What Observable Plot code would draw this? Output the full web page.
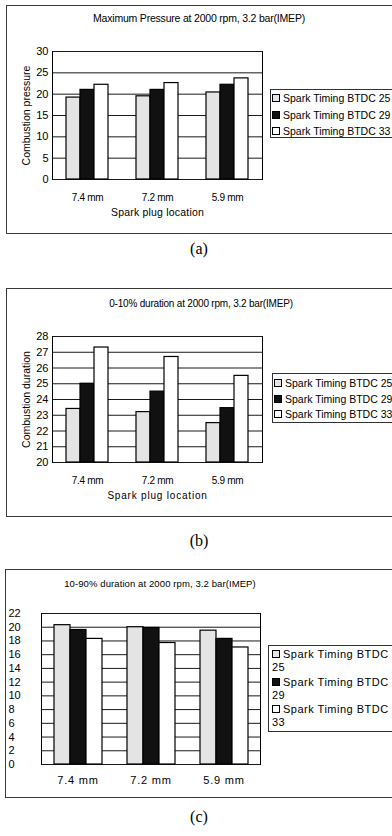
<!DOCTYPE html>
<html><head><meta charset="utf-8">
<script src="https://cdn.jsdelivr.net/npm/d3@7"></script>
<script src="https://cdn.jsdelivr.net/npm/@observablehq/plot@0.6"></script>
<style>
body{margin:0;background:#fff;}
#page{position:relative;width:392px;height:836px;overflow:hidden;font-family:"Liberation Sans",Arial,sans-serif;color:#000;background:#fff;}
.box{position:absolute;border:1px solid #3a3a3a;box-sizing:border-box;}
.title{position:absolute;white-space:nowrap;transform:translate(-50%,-50%);}
.cap{position:absolute;font-family:"Liberation Serif","DejaVu Serif",serif;font-size:16px;transform:translate(-50%,-50%);}
.legend{position:absolute;border:1px solid #333;background:#fff;box-sizing:border-box;}
.legend .item{white-space:nowrap;}
.legend .sw{display:inline-block;width:6px;height:6px;border:1px solid #000;margin-right:3px;vertical-align:0px;}
.plot{position:absolute;left:0;}
.plot svg{overflow:visible;}
</style></head><body><div id="page"></div><script>
// ---- shared categories ----
const locations = ["7.4 mm", "7.2 mm", "5.9 mm"];
const timings = ["Spark Timing BTDC 25", "Spark Timing BTDC 29", "Spark Timing BTDC 33"];
const timingFills = ["#e4e4e4", "#111111", "#ffffff"];
const xAxisLabel = "Spark plug location";

// ---- (a) Maximum pressure ----
const titleA = "Maximum Pressure at 2000 rpm, 3.2 bar(IMEP)";
const yLabelA = "Combustion pressure";
const pressureBTDC25 = [19.2, 19.5, 20.4];
const pressureBTDC29 = [21.0, 21.0, 22.2];
const pressureBTDC33 = [22.2, 22.6, 23.7];
const pressureTicks = [0, 5, 10, 15, 20, 25, 30];

// ---- (b) 0-10% duration ----
const titleB = "0-10% duration at 2000 rpm, 3.2 bar(IMEP)";
const yLabelB = "Combustion duration";
const dur010BTDC25 = [23.4, 23.2, 22.5];
const dur010BTDC29 = [25.0, 24.5, 23.45];
const dur010BTDC33 = [27.3, 26.7, 25.5];
const dur010Ticks = [20, 21, 22, 23, 24, 25, 26, 27, 28];

// ---- (c) 10-90% duration ----
const titleC = "10-90% duration at 2000 rpm, 3.2 bar(IMEP)";
const dur1090BTDC25 = [20.3, 20.0, 19.5];
const dur1090BTDC29 = [19.6, 19.9, 18.3];
const dur1090BTDC33 = [18.3, 17.7, 17.05];
const dur1090Ticks = [0, 2, 4, 6, 8, 10, 12, 14, 16, 18, 20, 22];

const captions = ["(a)", "(b)", "(c)"];

const page = document.getElementById("page");

function rows(s25, s29, s33) {
  const series = [s25, s29, s33];
  return locations.flatMap((loc, i) => timings.map((t, j) => ({location: loc, timing: t, value: series[j][i]})));
}

function el(cls, style, html) {
  const d = document.createElement("div");
  d.className = cls;
  Object.assign(d.style, style);
  if (html !== undefined) d.innerHTML = html;
  page.appendChild(d);
  return d;
}

function legend(style, itemStyle) {
  const d = el("legend", style);
  timings.forEach((t, i) => {
    const it = document.createElement("div");
    it.className = "item";
    Object.assign(it.style, itemStyle);
    it.innerHTML = `<span class="sw" style="background:${timingFills[i]}"></span>${t}`;
    d.appendChild(it);
  });
  return d;
}

function chart(cfg) {
  const marks = [
    Plot.ruleY(cfg.ticks, {stroke: "#1a1a1a", strokeWidth: 1}),
    Plot.barY(cfg.data, {fx: "location", x: "timing", y1: cfg.ticks[0], y2: "value", fill: "timing", stroke: "#000", strokeWidth: 1.2}),
    Plot.frame({anchor: "left", facetAnchor: "left", stroke: "#000"}),
    Plot.frame({anchor: "right", facetAnchor: "right", stroke: "#000"}),
    Plot.axisY(cfg.axisY)
  ];
  const p = Plot.plot({
    width: cfg.width, height: cfg.height,
    marginLeft: cfg.ml, marginRight: cfg.mr, marginTop: cfg.mt, marginBottom: cfg.mb,
    style: {fontFamily: "'Liberation Sans', Arial, sans-serif", fontSize: "11px", color: "#000", background: "transparent"},
    fx: Object.assign({domain: locations, padding: 0, axis: "bottom", tickSize: 0}, cfg.fx),
    x: {domain: timings, axis: null, paddingInner: 0, paddingOuter: cfg.po, align: 0.5},
    y: {domain: [cfg.ticks[0], cfg.ticks[cfg.ticks.length - 1]]},
    color: {domain: timings, range: timingFills},
    marks
  });
  p.querySelectorAll('[aria-label="fx-axis tick label"]').forEach(g => Object.assign(g.style, cfg.fxTickStyle || {}));
  p.querySelectorAll('[aria-label="fx-axis label"]').forEach(g => Object.assign(g.style, cfg.fxLabelStyle || {}));
  p.querySelectorAll('[aria-label="y-axis label"]').forEach(g => Object.assign(g.style, cfg.yLabelStyle || {}));
  const wrap = el("plot", {top: cfg.top + "px"});
  wrap.appendChild(p);
  return p;
}

// ===== Panel (a) =====
el("box", {left: "6px", top: "5px", width: "400px", height: "229px"});
el("title", {left: "199px", top: "18px", fontSize: "10.5px", letterSpacing: "-0.2px"}, titleA);
chart({
  top: 40, width: 265, height: 181, ml: 52, mr: 3, mt: 11, mb: 42, po: 0.84,
  data: rows(pressureBTDC25, pressureBTDC29, pressureBTDC33),
  ticks: pressureTicks,
  axisY: {ticks: pressureTicks, tickSize: 0, tickPadding: 4, label: yLabelA, labelAnchor: "center", labelArrow: false, labelOffset: 30},
  fx: {tickPadding: 14, label: xAxisLabel, labelAnchor: "center", labelOffset: 36},
  fxTickStyle: {fontSize: "10px", letterSpacing: "-0.3px"},
  fxLabelStyle: {fontSize: "10.5px", letterSpacing: "0.2px"},
  yLabelStyle: {fontSize: "10.5px"}
});
legend({left: "270px", top: "89px", width: "140px", height: "49px", fontSize: "10.5px", paddingTop: "0px", paddingLeft: "1px"}, {lineHeight: "16.5px"});
el("cap", {left: "199px", top: "249px"}, captions[0]);

// ===== Panel (b) =====
el("box", {left: "6px", top: "288px", width: "400px", height: "229px"});
el("title", {left: "201px", top: "303px", fontSize: "10px", letterSpacing: "-0.2px"}, titleB);
chart({
  top: 325, width: 265, height: 179, ml: 52, mr: 3, mt: 11, mb: 42, po: 0.84,
  data: rows(dur010BTDC25, dur010BTDC29, dur010BTDC33),
  ticks: dur010Ticks,
  axisY: {ticks: dur010Ticks, tickSize: 0, tickPadding: 4, label: yLabelB, labelAnchor: "center", labelArrow: false, labelOffset: 30},
  fx: {tickPadding: 14, label: xAxisLabel, labelAnchor: "center", labelOffset: 36},
  fxTickStyle: {fontSize: "10px", letterSpacing: "-0.3px"},
  fxLabelStyle: {fontSize: "10px", letterSpacing: "0.8px"},
  yLabelStyle: {fontSize: "10.5px"}
});
legend({left: "272px", top: "373px", width: "140px", height: "50px", fontSize: "10.5px", paddingTop: "2px", paddingLeft: "1px"}, {lineHeight: "15.5px"});
el("cap", {left: "199px", top: "541px"}, captions[1]);

// ===== Panel (c) =====
el("box", {left: "5px", top: "569px", width: "400px", height: "229px"});
el("title", {left: "160px", top: "583px", fontSize: "9.5px", letterSpacing: "0.1px"}, titleC);
chart({
  top: 600, width: 265, height: 190, ml: 40, mr: 5, mt: 13, mb: 26, po: 0.72,
  data: rows(dur1090BTDC25, dur1090BTDC29, dur1090BTDC33),
  ticks: dur1090Ticks,
  axisY: {ticks: dur1090Ticks, tickSize: 0, tickPadding: 33, textAnchor: "start", label: null},
  fx: {tickPadding: 12, label: null},
  fxTickStyle: {fontSize: "11px", letterSpacing: "0.8px"}
});
legend({left: "268px", top: "645px", width: "150px", height: "87px", fontSize: "11px", letterSpacing: "0.5px", paddingTop: "2px", paddingLeft: "3px"}, {lineHeight: "13px", whiteSpace: "normal", width: "124px", marginBottom: "1.5px"});
el("cap", {left: "199px", top: "817px"}, captions[2]);
</script></body></html>
